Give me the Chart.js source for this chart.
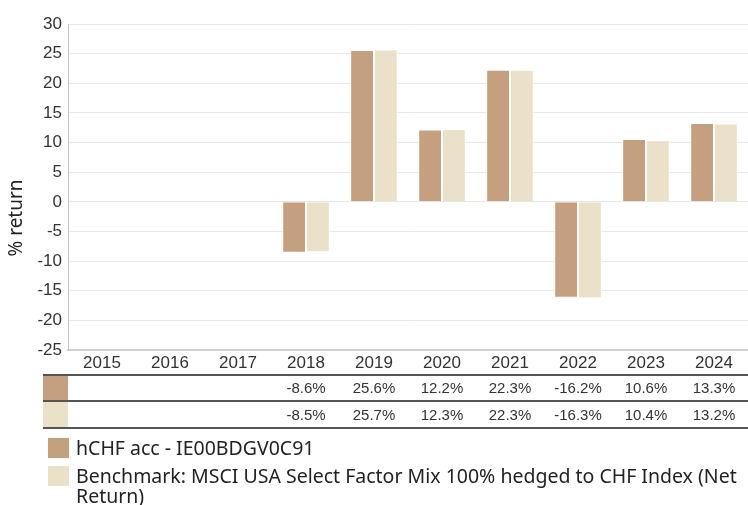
<!DOCTYPE html>
<html>
<head>
<meta charset="utf-8">
<script src="https://cdn.jsdelivr.net/npm/chart.js@4.4.1/dist/chart.umd.min.js"></script>
<style>
  html, body { margin: 0; padding: 0; background: #fff; }
  #wrap { width: 748px; height: 505px; position: relative; }
</style>
</head>
<body>
<div id="wrap"><canvas id="ctx"></canvas></div>
<script>
const years = ['2015', '2016', '2017', '2018', '2019', '2020', '2021', '2022', '2023', '2024'];
const fundReturns = [null, null, null, -8.6, 25.6, 12.2, 22.3, -16.2, 10.6, 13.3];
const benchReturns = [null, null, null, -8.5, 25.7, 12.3, 22.3, -16.3, 10.4, 13.2];
const seriesNames = ['hCHF acc - IE00BDGV0C91', 'Benchmark: MSCI USA Select Factor Mix 100% hedged to CHF Index (Net Return)'];
const seriesColors = ['#c4a07f', '#ebe1c9'];
const yMin = -25, yMax = 30, yStep = 5;
const yTitle = '% return';

const tickFont = "'Liberation Sans', Arial, sans-serif";
const legendFont = "'Noto Sans', 'Open Sans', sans-serif";

// table under the x axis + legend, drawn off the x scale
const tablePlugin = {
    id: 'returnsTable',
    afterDraw(chart) {
        const c = chart.ctx;
        const xs = chart.scales.x;
        const right = chart.width;
        const left = 43;
        const lines = [375, 401, 428];
        const rows = [fundReturns, benchReturns];

        c.save();
        // swatches for the rows
        rows.forEach((r, i) => {
            c.fillStyle = seriesColors[i];
            c.fillRect(left, lines[i] + 1, 25, lines[i + 1] - lines[i] - 1);
        });
        c.strokeStyle = '#555';
        c.lineWidth = 2;
        lines.forEach(y => {
            c.beginPath();
            c.moveTo(left, y);
            c.lineTo(right, y);
            c.stroke();
        });
        c.font = '15px ' + tickFont;
        c.fillStyle = '#333';
        c.textAlign = 'center';
        c.textBaseline = 'middle';
        rows.forEach((r, i) => {
            const yMid = (lines[i] + lines[i + 1]) / 2 + 1;
            r.forEach((v, j) => {
                if (v === null) return;
                c.fillText(v.toFixed(1) + '%', xs.getPixelForValue(j), yMid);
            });
        });

        // y axis title
        c.save();
        c.translate(17, 218);
        c.rotate(-Math.PI / 2);
        c.font = '19px ' + legendFont;
        c.fillStyle = '#222';
        c.fillText(yTitle, 0, 0);
        c.restore();

        // legend
        c.font = '19.5px ' + legendFont;
        c.textAlign = 'left';
        let y = 449;
        const maxW = right - 76;
        seriesNames.forEach((name, i) => {
            c.fillStyle = seriesColors[i];
            c.fillRect(48, y - 11, 21, 20);
            c.fillStyle = '#222';
            const words = name.split(' ');
            let line = '';
            words.forEach(w => {
                const test = line ? line + ' ' + w : w;
                if (c.measureText(test).width > maxW && line) {
                    c.fillText(line, 76, y);
                    y += 20;
                    line = w;
                } else {
                    line = test;
                }
            });
            c.fillText(line, 76, y);
            y += 28;
        });
        c.restore();
    }
};

const config = {
    type: 'bar',
    data: {
        labels: years,
        datasets: [
            {
                label: seriesNames[0],
                data: fundReturns,
                backgroundColor: seriesColors[0],
                borderColor: '#fff',
                borderWidth: 1,
                categoryPercentage: 0.7,
                barPercentage: 1,
            },
            {
                label: seriesNames[1],
                data: benchReturns,
                backgroundColor: seriesColors[1],
                borderColor: '#fff',
                borderWidth: 1,
                categoryPercentage: 0.7,
                barPercentage: 1,
            },
        ]
    },
    options: {
        responsive: true,
        maintainAspectRatio: false,
        animation: false,
        layout: { padding: { top: 24, right: 0, left: 0, bottom: 0 } },
        plugins: {
            legend: { display: false },
            tooltip: { enabled: false },
        },
        scales: {
            x: {
                grid: { display: false, drawTicks: false },
                border: { color: '#cfcfcf', width: 2 },
                ticks: { color: '#333', font: { size: 17, family: tickFont }, padding: 3, maxRotation: 0 },
                afterFit(scale) { scale.height = 155; }
            },
            y: {
                min: yMin,
                max: yMax,
                grid: { color: '#e8e8e8', drawTicks: false },
                border: { color: '#c4c4c4', width: 1 },
                ticks: { stepSize: yStep, color: '#333', font: { size: 17, family: tickFont }, padding: 6 },
                afterFit(scale) { scale.width = 68; }
            }
        }
    },
    plugins: [tablePlugin]
};

new Chart(document.getElementById('ctx').getContext('2d'), config);
</script>
</body>
</html>
